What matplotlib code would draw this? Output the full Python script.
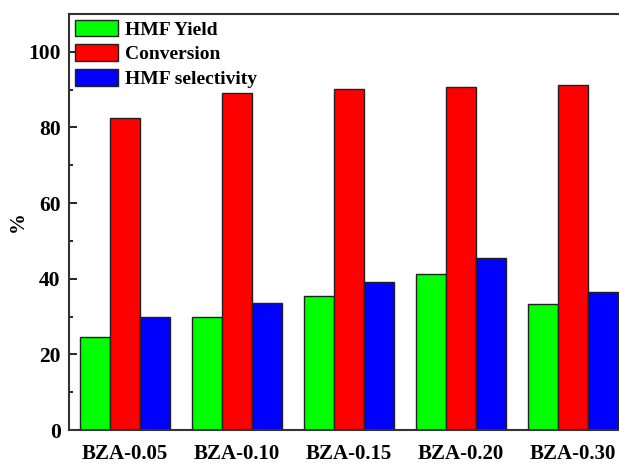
import matplotlib
matplotlib.use("Agg")
import matplotlib.pyplot as plt
import numpy as np
from matplotlib.ticker import MultipleLocator

# data
samples = ["BZA-0.05", "BZA-0.10", "BZA-0.15", "BZA-0.20", "BZA-0.30"]
hmf_yield = [24.5, 30.0, 35.4, 41.3, 33.4]
conversion = [82.6, 89.1, 90.1, 90.8, 91.2]
hmf_selectivity = [29.8, 33.7, 39.2, 45.5, 36.4]

plt.rcParams["font.family"] = "Liberation Serif"
plt.rcParams["font.weight"] = "bold"

fig = plt.figure(figsize=(6.19, 4.63), dpi=100)
ax = fig.add_axes([69 / 619, 33 / 463, 560 / 619, 416 / 463])

x = np.arange(1, len(samples) + 1)
w = 0.268
ax.bar(x - w, hmf_yield, w, color="#00ff00", edgecolor="#222222", lw=1.0, label="HMF Yield")
ax.bar(x, conversion, w, color="#ff0000", edgecolor="#222222", lw=1.0, label="Conversion")
ax.bar(x + w, hmf_selectivity, w, color="#0000ff", edgecolor="#222222", lw=1.0, label="HMF selectivity")

ax.set_xlim(0.5, 5.5)
ax.set_ylim(0, 110)
ax.set_xticks(x)
ax.set_xticklabels(samples, fontsize=15, fontweight="bold")
ax.yaxis.set_major_locator(MultipleLocator(20))
ax.yaxis.set_minor_locator(MultipleLocator(10))
ax.tick_params(axis="y", which="major", direction="in", length=6, width=1.2, labelsize=15.5, pad=6)
ax.tick_params(axis="y", which="minor", direction="in", length=3, width=1.2)
ax.tick_params(axis="x", length=0, pad=10)
for lab in ax.get_yticklabels():
    lab.set_fontweight("bold")
for s in ax.spines.values():
    s.set_linewidth(1.5)
    s.set_color("#333333")

ax.set_ylabel("%", fontsize=15, fontweight="bold")
ax.yaxis.set_label_coords(-0.074, 0.5)

ax.legend(loc="upper left", frameon=False, prop={"weight": "bold", "size": 14},
          handlelength=2.2, handleheight=0.93, labelspacing=0.29, handletextpad=0.4,
          borderaxespad=0.2, borderpad=0.1)

fig.savefig("out.png", dpi=100)
